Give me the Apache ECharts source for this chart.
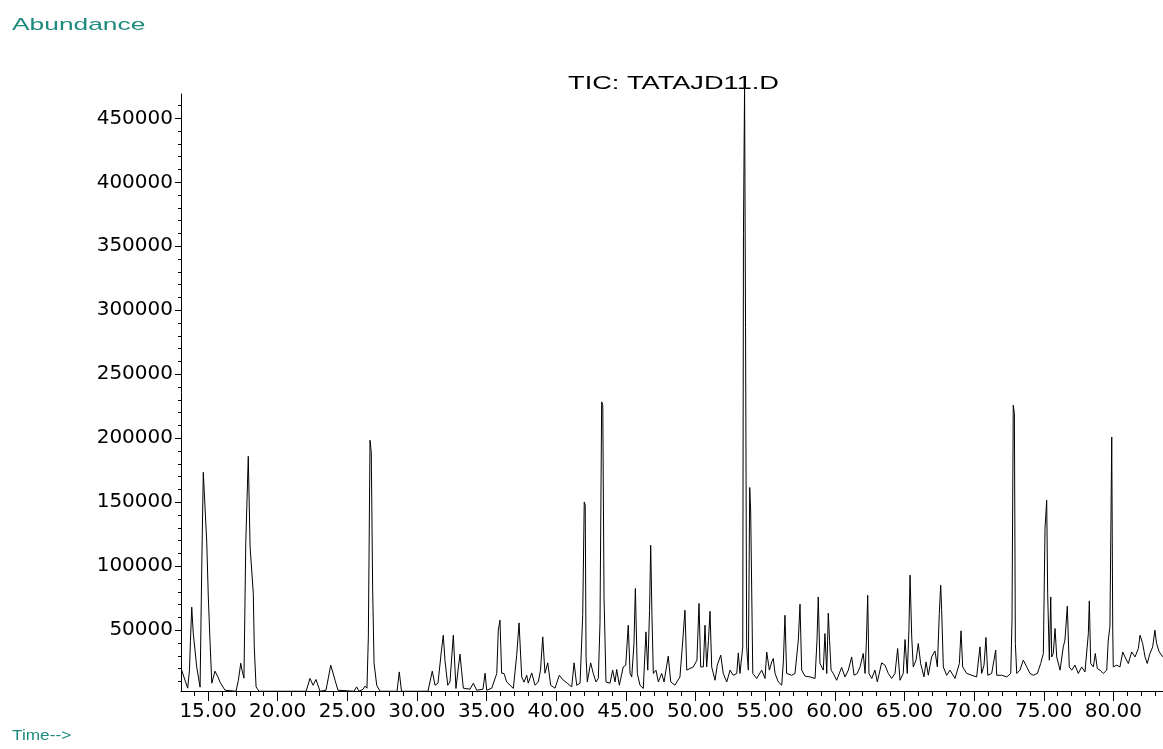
<!DOCTYPE html>
<html>
<head>
<meta charset="utf-8">
<script src="https://cdn.jsdelivr.net/npm/echarts@6/dist/echarts.min.js"></script>
<style>
  html, body { margin: 0; padding: 0; background: #ffffff; }
  #chart { width: 1163px; height: 749px; }
</style>
</head>
<body>
<div id="chart"></div>
<script>
// Retention time (minutes)
var times = [
  13.06,13.54,13.67,13.74,13.83,13.94,14.19,14.43,14.55,14.66,14.76,14.91,15.02,15.14,15.27,15.50,15.72,15.86,16.22,
  17.01,17.18,17.35,17.44,17.58,17.71,17.89,18.02,18.25,18.32,18.45,18.66,20.03,20.17,20.31,22.04,22.32,22.54,22.75,
  23.04,23.47,23.81,24.12,24.33,25.48,25.67,25.84,26.13,26.27,26.41,26.51,26.63,26.72,26.82,26.92,27.11,27.35,28.57,
  28.73,28.89,30.79,31.10,31.30,31.51,31.76,31.89,32.01,32.21,32.37,32.61,32.80,32.95,33.09,33.20,33.33,33.81,34.05,
  34.29,34.74,34.89,35.01,35.37,35.73,35.84,35.96,36.08,36.25,36.44,36.92,37.16,37.33,37.52,37.69,37.88,37.99,38.24,
  38.48,38.71,38.87,39.03,39.19,39.39,39.60,39.91,40.22,40.51,40.79,41.11,41.28,41.47,41.71,41.90,42.01,42.08,42.14,
  42.23,42.47,42.66,42.85,43.02,43.14,43.26,43.34,43.43,43.57,43.86,44.05,44.22,44.34,44.53,44.81,44.99,45.17,45.30,
  45.42,45.58,45.68,45.82,46.01,46.25,46.44,46.57,46.70,46.78,46.87,46.97,47.16,47.33,47.57,47.74,48.04,48.22,48.52,
  48.88,49.05,49.24,49.37,49.60,49.84,50.10,50.25,50.37,50.56,50.68,50.80,50.93,51.04,51.16,51.40,51.56,51.81,51.99,
  52.24,52.48,52.71,52.96,53.07,53.19,53.39,53.44,53.52,53.59,53.67,53.79,53.89,53.96,54.11,54.39,54.75,54.99,55.11,
  55.30,55.47,55.58,55.71,55.94,56.19,56.31,56.42,56.54,56.90,57.14,57.38,57.50,57.62,57.86,58.22,58.58,58.72,58.81,
  58.93,59.17,59.29,59.42,59.53,59.62,59.73,59.89,60.13,60.49,60.73,60.97,61.21,61.38,61.61,61.81,62.04,62.17,62.27,
  62.36,62.45,62.65,62.88,63.05,63.36,63.60,63.84,64.08,64.32,64.51,64.68,64.91,65.04,65.20,65.32,65.40,65.52,65.63,
  65.83,65.99,66.16,66.40,66.55,66.71,66.95,67.19,67.36,67.50,67.60,67.67,67.79,68.03,68.27,68.63,68.94,69.06,69.18,
  69.47,69.83,70.18,70.42,70.54,70.71,70.85,70.98,71.26,71.55,71.62,71.98,72.34,72.63,72.72,72.81,72.89,72.96,73.06,
  73.29,73.53,73.78,74.01,74.25,74.54,74.78,74.97,75.09,75.21,75.28,75.40,75.50,75.57,75.68,75.81,75.93,76.17,76.40,
  76.52,76.69,76.83,77.01,77.24,77.48,77.72,77.96,78.20,78.27,78.37,78.56,78.70,78.84,79.04,79.27,79.52,79.63,79.75,
  79.88,79.95,79.99,80.24,80.47,80.67,80.83,81.07,81.31,81.55,81.79,81.91,82.10,82.27,82.43,82.62,82.82,82.98,83.10,
  83.29,83.56
];
// Total ion current abundance
var abundance = [
  20300,4700,18800,42200,68000,47700,21100,5500,99500,173400,151600,118000,76000,42200,8600,18000,13300,9400,3100,
  2300,10900,24200,18800,12500,118000,185900,115100,78900,37000,5700,2300,2300,3500,2300,2300,12300,7000,11500,
  2300,3100,22700,10900,3100,2300,5700,2300,3900,6300,4700,44800,198400,189100,81300,24200,7000,2300,2300,
  17400,2300,2300,18000,7000,8600,34400,46100,26600,7000,9600,46100,4500,18800,31300,18800,4700,3900,8600,
  3100,3900,16400,3100,4700,16200,50000,57800,16400,16200,9600,4500,30500,55700,13500,9400,14800,8600,16600,
  7000,9600,18800,44800,16400,24500,7000,4700,14800,10900,8600,5700,24500,7000,8600,61700,150200,147700,29100,
  9600,24500,16200,9600,12300,55500,228400,225800,76000,9600,8600,18800,9600,19300,7000,21300,22700,53900,16200,
  13500,39600,82600,16200,7000,4500,48700,18800,65600,116400,61700,16200,18800,9600,16200,9600,29700,9600,7000,
  13500,37000,65600,18800,20100,21300,26600,70900,21300,21300,53900,21300,42200,64800,21300,10900,22700,30500,16200,
  9600,18800,14800,16200,32300,16200,37000,360200,475800,286700,37000,18800,161500,142400,16200,12300,18800,12300,33000,
  18800,25200,27900,16200,9600,7000,26600,61700,16200,14800,16200,42200,70300,18800,14100,13500,12300,42200,76000,
  24200,18800,47400,16200,63300,42200,18800,16200,10900,20900,13500,18800,29100,14800,16200,21300,31800,16200,42200,
  77300,16200,12300,18800,9600,24500,22700,16200,12300,16200,35700,10900,16200,42700,16200,50000,93000,44800,21300,
  26600,39600,24000,13500,25200,14800,29100,33800,21300,63000,85200,65600,21300,14800,18800,12300,24000,49500,21300,
  16200,14800,13500,37000,16200,22700,44300,14800,16200,34400,14800,14800,13500,16200,57800,225800,219300,39600,16200,
  18800,26600,21300,16200,14800,16200,24000,31800,129500,151600,78700,26600,76000,29100,31800,51300,29100,18800,37000,
  42200,68800,21300,18800,22700,16200,21300,17400,47400,72900,24000,21300,31800,20100,18800,16200,18800,42200,52600,
  201000,52600,21300,22700,21300,33000,29100,24000,33000,29100,35700,46100,39600,29100,24000,31800,37000,50000,39600,
  33000,29100
];
// Axis ticks
var xTickLabels = [15,20,25,30,35,40,45,50,55,60,65,70,75,80];
var xMinorTicks = [14,15,16,17,18,19,20,21,22,23,24,25,26,27,28,29,30,31,32,33,34,35,36,37,38,39,40,41,42,43,44,45,46,47,48,49,50,51,52,53,54,55,56,57,58,59,60,61,62,63,64,65,66,67,68,69,70,71,72,73,74,75,76,77,78,79,80,81,82,83];
var yTickLabels = [50000,100000,150000,200000,250000,300000,350000,400000,450000];
var yMinorTicks = [10000,20000,30000,40000,50000,60000,70000,80000,90000,100000,110000,120000,130000,140000,150000,160000,170000,180000,190000,200000,210000,220000,230000,240000,250000,260000,270000,280000,290000,300000,310000,320000,330000,340000,350000,360000,370000,380000,390000,400000,410000,420000,430000,440000,450000,460000];
var xRange = [13.06, 83.56];
var yRange = [2500, 469000];
var titleText = 'TIC: TATAJD11.D';
var yName = 'Abundance';
var xName = 'Time-->';

var points = times.map(function (t, i) { return [t, abundance[i]]; });

var chart = echarts.init(document.getElementById('chart'), null, { renderer: 'canvas' });
var labelFont = 'DejaVu Sans';
var teal = '#1f8a7e';
chart.setOption({
  animation: false,
  backgroundColor: '#ffffff',
  grid: { left: 181, right: 0, top: 94, bottom: 58, containLabel: false },
  xAxis: [
    {
      type: 'value', min: xRange[0], max: xRange[1], position: 'bottom',
      axisLine: { show: true, onZero: false, lineStyle: { color: '#000', width: 1 } },
      axisTick: { show: true, inside: false, length: 10, customValues: xTickLabels, lineStyle: { color: '#000', width: 1 } },
      axisLabel: { show: true, customValues: xTickLabels, margin: 11, color: '#000', fontFamily: labelFont, fontSize: 20,
        formatter: function (v) { return Number(v).toFixed(2); } },
      splitLine: { show: false }
    },
    {
      type: 'value', min: xRange[0], max: xRange[1], position: 'bottom', offset: 0,
      axisLine: { show: false, onZero: false },
      axisTick: { show: true, inside: false, length: 5, customValues: xMinorTicks, lineStyle: { color: '#000', width: 1 } },
      axisLabel: { show: false },
      splitLine: { show: false }
    }
  ],
  yAxis: [
    {
      type: 'value', min: yRange[0], max: yRange[1], position: 'left',
      axisLine: { show: true, onZero: false, lineStyle: { color: '#000', width: 1 } },
      axisTick: { show: true, inside: false, length: 6, customValues: yTickLabels, lineStyle: { color: '#000', width: 1 } },
      axisLabel: { show: true, customValues: yTickLabels, margin: 8, color: '#000', fontFamily: labelFont, fontSize: 20,
        formatter: function (v) { return String(Math.round(Number(v))); } },
      splitLine: { show: false }
    },
    {
      type: 'value', min: yRange[0], max: yRange[1], position: 'left', offset: 0,
      axisLine: { show: false, onZero: false },
      axisTick: { show: true, inside: false, length: 3, customValues: yMinorTicks, lineStyle: { color: '#000', width: 1 } },
      axisLabel: { show: false },
      splitLine: { show: false }
    }
  ],
  graphic: [
    { type: 'text', x: 12, y: 25, scaleX: 1.55, silent: true,
      style: { text: yName, fill: teal, fontSize: 17, fontFamily: 'Liberation Sans', textAlign: 'left', textVerticalAlign: 'middle', align: 'left', verticalAlign: 'middle' } },
    { type: 'text', x: 12, y: 736, scaleX: 1.15, silent: true,
      style: { text: xName, fill: teal, fontSize: 15, fontFamily: 'Liberation Sans', textAlign: 'left', textVerticalAlign: 'middle', align: 'left', verticalAlign: 'middle' } },
    { type: 'text', x: 673.5, y: 84, scaleX: 1.51, silent: true,
      style: { text: titleText, fill: '#000', fontSize: 18, fontFamily: 'Liberation Sans', textAlign: 'center', textVerticalAlign: 'middle', align: 'center', verticalAlign: 'middle' } }
  ],
  series: [
    {
      type: 'line', xAxisIndex: 0, yAxisIndex: 0, data: points,
      showSymbol: false, symbol: 'none', clip: false, smooth: false,
      lineStyle: { color: '#000', width: 1 }
    }
  ]
});
</script>
</body>
</html>
